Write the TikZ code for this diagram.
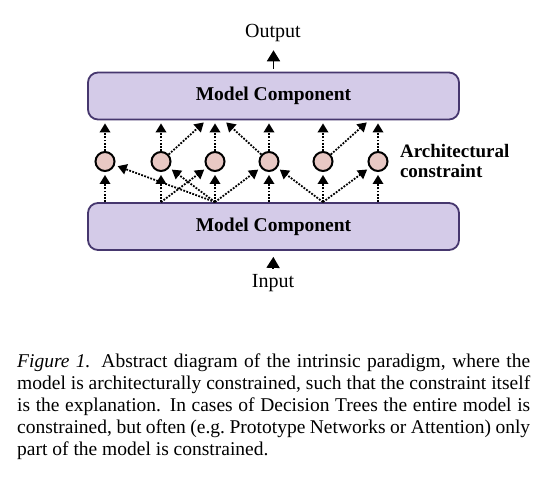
\documentclass[tikz,border=0pt]{standalone}
\usepackage{fontspec}
\setmainfont{Liberation Serif}
\usetikzlibrary{arrows.meta}
\usetikzlibrary{positioning}
\usetikzlibrary{calc}

\definecolor{boxfill}{HTML}{D4CBE8}
\definecolor{boxline}{HTML}{46376E}
\definecolor{unitfill}{HTML}{E8C8C4}

\tikzset{
  component/.style={draw=boxline, fill=boxfill, line width=1.8pt, rounded corners=10pt,
    minimum width=371pt, minimum height=47pt, font=\fontsize{19.5}{22}\selectfont\bfseries},
  unit/.style={circle, draw=black, fill=unitfill, line width=2pt, minimum size=19pt, inner sep=0pt},
  link/.style={line width=1.8pt, dash pattern=on 1.8pt off 1.4pt, shorten >=3pt,
    -{Triangle[length=9pt,width=10.5pt]}},
  io/.style={line width=1.8pt, -{Triangle[length=11pt,width=13pt]}},
}

\begin{document}
\begin{tikzpicture}[x=1pt,y=-1pt]
    \useasboundingbox (0,0) rectangle (552,492);
    \node[component] (up) at (273.5,96) {Model Component};
    \node[component] (low) at (273.5,226.5) {Model Component};
    \node[font=\fontsize{20}{22}\selectfont] (out) at (273,33) {Output};
    \node[font=\fontsize{20}{22}\selectfont] (in) at (273,283) {Input};
    \foreach \i/\x in {1/105,2/161,3/215,4/269,5/323,6/378}
      \node[unit] (c\i) at (\x,161.5) {};
    \node[right=8pt of c6, align=left, font=\fontsize{19}{20}\selectfont\bfseries] (lbl) {Architectural\\constraint};
    % straight links
    \foreach \i in {1,...,6} {
      \draw[link] (c\i |- low.north) -- (c\i.south);
      \draw[link] (c\i.north) -- (c\i |- up.south);
    }
    % crossing links
    \draw[link] (c2) -- ($(c3 |- up.south)+(-9,0)$);
    \draw[link] (c4) -- ($(c3 |- up.south)+(9,0)$);
    \draw[link] (c5) -- ($(c6 |- up.south)+(-9,0)$);
    \draw[link] (c3 |- low.north) -- (c1);
    \draw[link] (c3 |- low.north) -- (c2);
    \draw[link] (c2 |- low.north) -- (c3);
    \draw[link] (c3 |- low.north) -- (c4);
    \draw[link] (c5 |- low.north) -- (c4);
    \draw[link] (c5 |- low.north) -- (c6);
    % input and output
    \draw[io, shorten <=3pt, shorten >=5pt] (up.north) -- (up.north |- out.south);
    \draw[io, shorten <=2pt, shorten >=6pt] (in.north) -- (low.south);
    \node[anchor=north west, inner sep=0pt, text width=513pt, align=justify,
      font=\fontsize{19.5}{22}\selectfont] (caption) at (17,354)
      {\textit{Figure 1.} Abstract diagram of the intrinsic paradigm, where the\linebreak
       model is architecturally constrained, such that the constraint itself\linebreak
       is the explanation. In cases of Decision Trees the entire model is\linebreak
       constrained, but often (e.g.\ Prototype Networks or Attention) only\linebreak
       part of the model is constrained.};
\end{tikzpicture}
\end{document}
